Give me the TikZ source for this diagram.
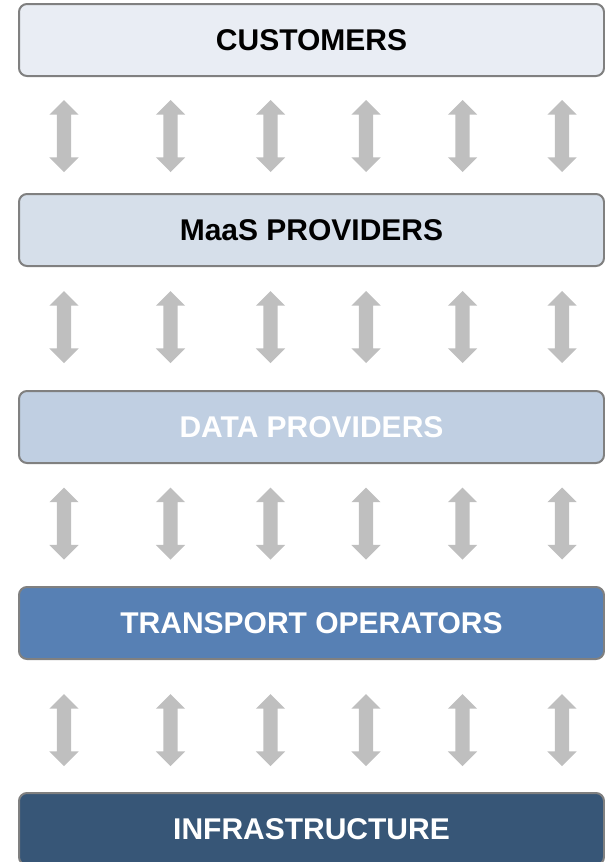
\documentclass[tikz,border=0pt]{standalone}
\usepackage{fontspec}
\setmainfont{Liberation Sans}
\usepackage{tikz}
\usetikzlibrary{shapes.arrows}
\usepackage{color}
\definecolor{custfill}{RGB}{233, 237, 244}
\definecolor{maasfill}{RGB}{214, 223, 234}
\definecolor{datafill}{RGB}{192, 207, 226}
\definecolor{transfill}{RGB}{87, 128, 180}
\definecolor{infrafill}{RGB}{55, 86, 119}
\definecolor{edgegray}{RGB}{128, 128, 128}
\definecolor{linkgray}{RGB}{191, 191, 191}

\tikzset{
    layer/.style={draw=edgegray, line width=2pt, rounded corners=8pt,
        minimum width=585pt, minimum height=72pt, inner sep=0pt,
        font=\fontsize{30}{36}\selectfont\bfseries},
    updown/.style={double arrow, rotate=90, fill=linkgray, draw=none,
        minimum height=72pt, minimum width=29pt, inner xsep=0pt, inner ysep=7pt,
        double arrow head extend=7.5pt, double arrow tip angle=90},
}

\begin{document}
\begin{tikzpicture}[x=1pt, y=-1pt]
            \clip (0,0) rectangle (605,862);
            % the five layers
            \node[layer, fill=custfill]               (customers) at (311.5, 40) {CUSTOMERS};
            \node[layer, fill=maasfill]               (maas)      at (311.5,230) {MaaS PROVIDERS};
            \node[layer, fill=datafill,  text=white]  (data)      at (311.5,427) {DATA PROVIDERS};
            \node[layer, fill=transfill, text=white]  (transport) at (311.5,623) {TRANSPORT OPERATORS};
            \node[layer, fill=infrafill, text=white]  (infra)     at (311.5,829) {INFRASTRUCTURE};
            % links between neighbouring layers
            \foreach \y/\r in {136/1, 327/2, 523.5/3, 730/4}
                \foreach \x/\c in {64/1, 170.5/2, 270.5/3, 366/4, 462.5/5, 562/6}
                    \node[updown] (link-\r-\c) at (\x,\y) {};
        \end{tikzpicture}
\end{document}
